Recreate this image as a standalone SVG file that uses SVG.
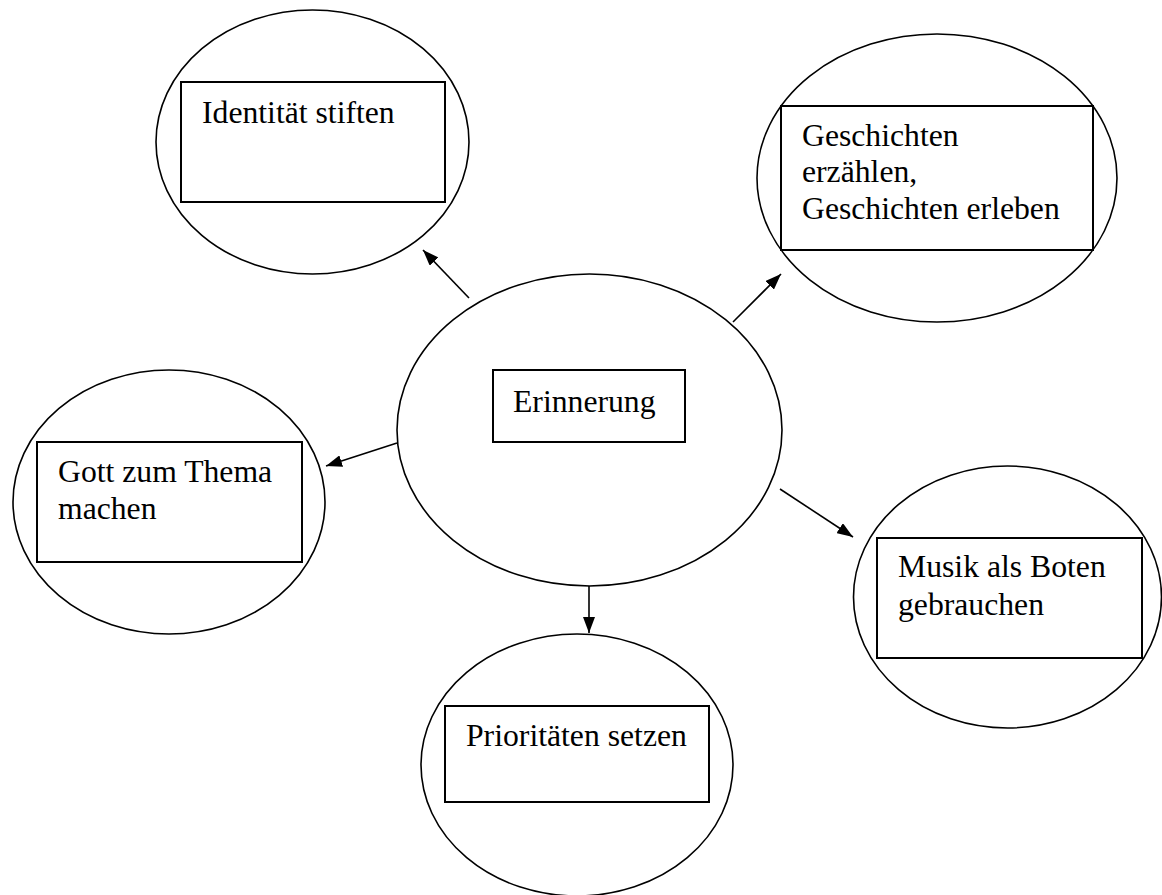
<svg xmlns="http://www.w3.org/2000/svg" width="1162" height="895" viewBox="0 0 1162 895">
<style>
.el{fill:none;stroke:#000;stroke-width:1.6}
.bx{fill:none;stroke:#000;stroke-width:2}
.t{font-family:"Liberation Serif","Times New Roman",serif;font-size:31.7px;fill:#000}
.ar{stroke:#000;stroke-width:1.6;fill:none;marker-end:url(#ah)}
</style>
<defs>
<marker id="ah" markerUnits="userSpaceOnUse" markerWidth="16" markerHeight="12" refX="16" refY="6" orient="auto">
<path d="M0,0 L16,6 L0,12 z" fill="#000"/>
</marker>
</defs>
<rect width="1162" height="895" fill="#fff"/>
<g id="center">
<ellipse class="el" cx="589.5" cy="430" rx="192.5" ry="156"/>
<rect class="bx" x="493" y="370" width="192" height="72"/>
<text class="t" x="513" y="412">Erinnerung</text>
</g>
<g id="identitaet">
<ellipse class="el" cx="312.5" cy="142" rx="156.5" ry="132"/>
<rect class="bx" x="181" y="82" width="264" height="120"/>
<text class="t" x="202" y="123">Identität stiften</text>
</g>
<g id="geschichten">
<ellipse class="el" cx="937" cy="178" rx="180" ry="144"/>
<rect class="bx" x="781" y="106" width="312" height="144"/>
<text class="t" x="802" y="146">Geschichten</text>
<text class="t" x="802" y="182">erzählen,</text>
<text class="t" x="802" y="219">Geschichten erleben</text>
</g>
<g id="gott">
<ellipse class="el" cx="169" cy="502" rx="156" ry="132"/>
<rect class="bx" x="37" y="442" width="265" height="120"/>
<text class="t" x="58" y="482">Gott zum Thema</text>
<text class="t" x="58" y="519">machen</text>
</g>
<g id="musik">
<ellipse class="el" cx="1007.5" cy="597" rx="154" ry="131"/>
<rect class="bx" x="877" y="538" width="265" height="120"/>
<text class="t" x="898" y="577">Musik als Boten</text>
<text class="t" x="898" y="615">gebrauchen</text>
</g>
<g id="prioritaeten">
<ellipse class="el" cx="577" cy="765" rx="156" ry="131"/>
<rect class="bx" x="445" y="706" width="264" height="96"/>
<text class="t" x="466" y="746">Prioritäten setzen</text>
</g>
<g id="connectors">
<line class="ar" x1="469" y1="298" x2="423" y2="250"/>
<line class="ar" x1="733" y1="322" x2="781" y2="274"/>
<line class="ar" x1="397" y1="443" x2="326" y2="466"/>
<line class="ar" x1="780" y1="489" x2="853" y2="537"/>
<line class="ar" x1="589" y1="586" x2="589" y2="633"/>
</g>
</svg>
